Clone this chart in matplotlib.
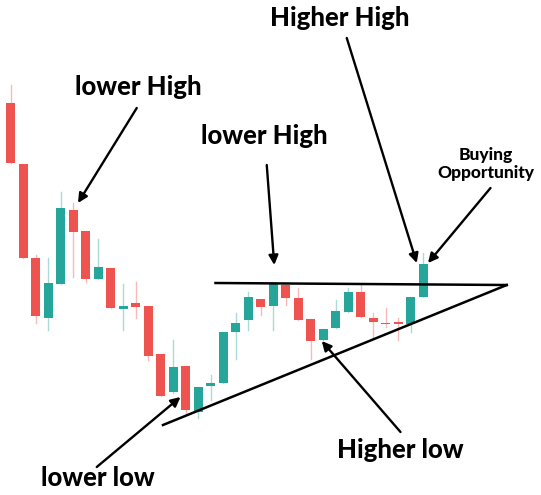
import matplotlib
matplotlib.use('Agg')
from matplotlib import pyplot as plt
from matplotlib.patches import Rectangle

# candle values (price units)
opens  = [392, 331, 237, 177, 211, 285, 264, 216, 227, 186, 192, 189, 141, 103, 129, 83, 109,
          112, 163, 175, 196, 189, 210, 197, 176, 155, 167, 183, 203, 177, 172.5, 173, 171, 198]
closes = [332, 237, 179, 212, 287, 263, 216, 228, 187, 189, 188, 139, 99, 128, 85, 108, 112,
          163, 172, 198, 188, 212, 197, 175, 154, 166, 184, 203, 178, 173, 171, 171, 198, 231]
highs  = [410, 331, 240, 237, 303, 292, 264, 256, 227, 211, 213, 189, 141, 155, 129, 108, 120,
          163, 182, 203, 196, 213, 210, 207, 176, 166, 195, 207, 212, 182, 187, 177, 198, 242]
lows   = [332, 237, 172, 165, 211, 218, 213, 216, 187, 165, 177, 135, 99, 102, 82, 77, 95,
          112, 136, 165, 180, 165, 190, 175, 136, 155, 167, 183, 178, 157, 168, 155, 163, 198]

# trend lines (x = candle index, y = price)
resistance_x = [16.4, 39.7]
resistance_y = [212, 210]
support_x = [12.2, 39.7]
support_y = [70, 210]

# labels: text, text pos, arrow start, arrow tip, size
labels = ['lower High', 'lower High', 'Higher High', 'Buying\nOpportunity', 'Higher low', 'lower low']
text_pos = [(10.2, 408), (20.3, 359), (26.3, 477), (38.0, 331), (31.2, 45), (7.0, 17)]
arrow_from = [(10.1, 387), (20.5, 330), (26.9, 457), (38.4, 307), (31.2, 63), (6.9, 28)]
arrow_to = [(5.4, 292), (21.1, 230), (32.5, 232), (33.4, 232), (24.9, 154), (13.6, 98)]
sizes = [18.5, 18.5, 18.5, 12.5, 18.5, 18.5]

up_col = '#26a69a'
down_col = '#ef5350'

fig = plt.figure(figsize=(5.41, 4.95), dpi=100)
ax = fig.add_axes([0, 0, 1, 1])
ax.set_xlim(-0.84, 42.44)
ax.set_ylim(0, 495)
ax.axis('off')

w = 0.72
for i in range(len(opens)):
    o, c, h, l = opens[i], closes[i], highs[i], lows[i]
    col = up_col if c >= o else down_col
    ax.plot([i, i], [l, h], color=col, lw=1.0, alpha=0.4, zorder=1)
    bottom = min(o, c)
    hgt = max(abs(c - o), 1.5)
    ax.add_patch(Rectangle((i - w / 2, bottom), w, hgt, facecolor=col, edgecolor='none', zorder=2))

ax.plot(resistance_x, resistance_y, color='black', lw=1.8, zorder=3)
ax.plot(support_x, support_y, color='black', lw=1.8, zorder=3)

for i in range(len(labels)):
    ax.text(text_pos[i][0], text_pos[i][1], labels[i], ha='center', va='center',
            fontsize=sizes[i], fontweight='black', family=['Lato', 'DejaVu Sans'],
            linespacing=1.1, zorder=4)
    ax.annotate('', xy=arrow_to[i], xytext=arrow_from[i],
                arrowprops=dict(arrowstyle='-|>', color='black', lw=1.7,
                                mutation_scale=14, shrinkA=0, shrinkB=0), zorder=4)

fig.savefig('out.png', dpi=100)
